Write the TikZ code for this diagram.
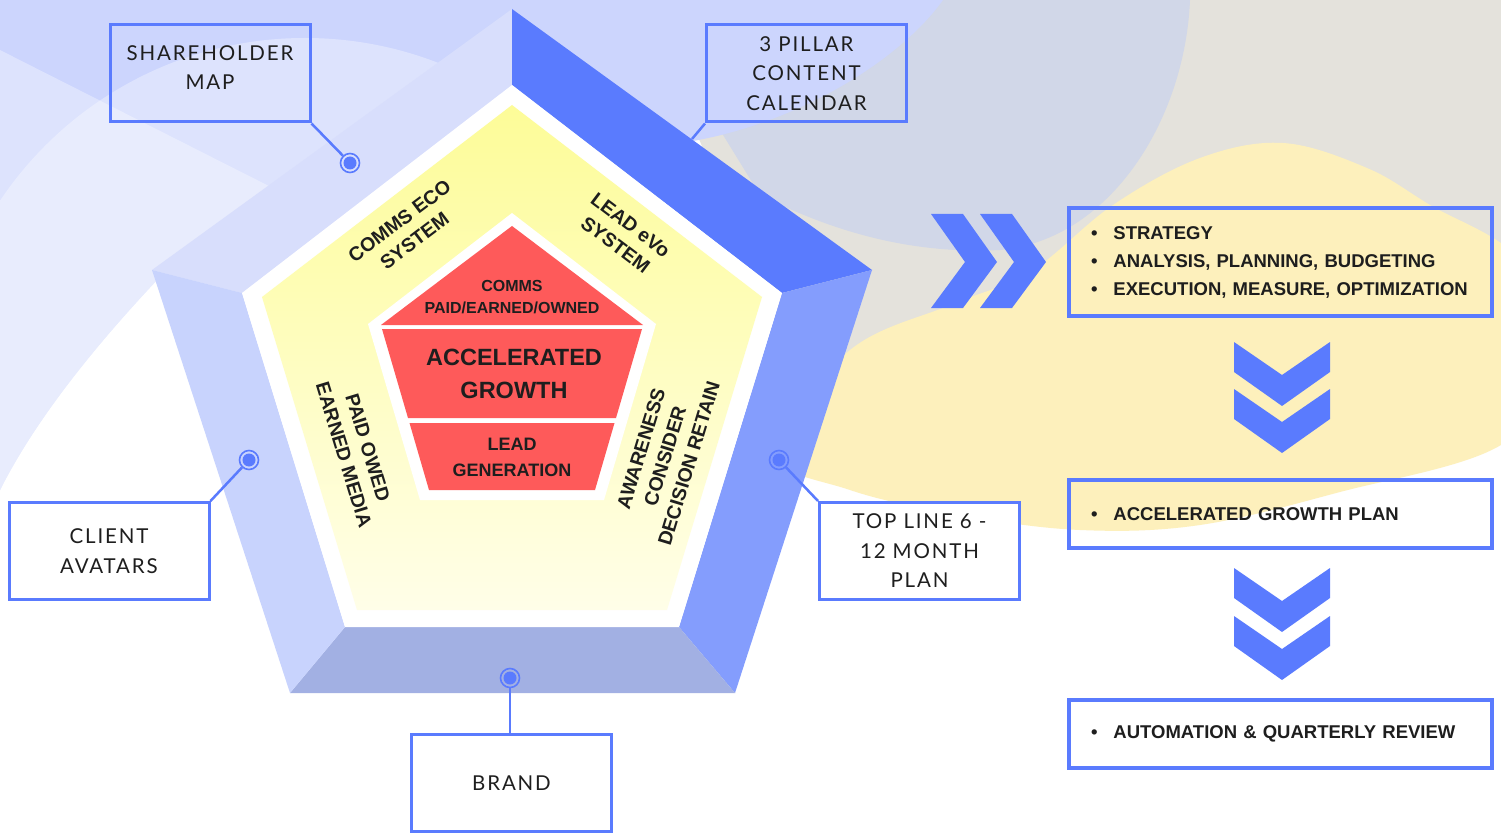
\documentclass[tikz,border=0pt]{standalone}
\usepackage{fontspec}
\setmainfont{Liberation Sans}
\newfontfamily\tagfont{Lato}[LetterSpace=9]
\usetikzlibrary{positioning}

\definecolor{accent}{HTML}{5A7BFE}
\definecolor{faceR}{HTML}{849DFD}
\definecolor{faceB}{HTML}{A2B0E3}
\definecolor{faceL}{HTML}{C8D3FD}
\definecolor{faceTL}{HTML}{D8DEFC}
\definecolor{lav}{HTML}{CCD5FD}
\definecolor{greyblue}{HTML}{D1D7E8}
\definecolor{beige}{HTML}{E4E2DC}
\definecolor{sand}{HTML}{FDF0BC}
\definecolor{coral}{HTML}{FE5A5A}
\definecolor{lemon}{HTML}{FDFC98}
\definecolor{cream}{HTML}{FFFEE8}
\definecolor{ink}{HTML}{1E1E1E}

% outline of the lavender backdrop (used twice)
\newcommand{\lavoutline}{(0,0) -- (943,0) .. controls (900,60) and (800,122) .. (693,141) -- (560,420) -- (157,280) .. controls (110,330) and (40,410) .. (0,490) -- cycle}

\begin{document}
\begin{tikzpicture}[x=1pt,y=-1pt]
  \tikzstyle{labelbox}=[draw=accent, line width=3pt, minimum width=200pt, minimum height=97pt, align=center, text=ink, font=\tagfont\fontsize{20.5}{29.5}\selectfont]
  \tikzstyle{listbox}=[draw=accent, line width=4pt, minimum width=423pt, text width=379pt, inner xsep=22pt, align=left, text=ink, font=\bfseries\fontsize{18.5}{28}\selectfont]
  \tikzstyle{knob}=[circle, draw=accent, line width=1.6pt, minimum size=19pt, inner sep=0pt, path picture={\fill[accent] (path picture bounding box.center) circle (6.5pt);}]
  \tikzstyle{wire}=[accent, line width=2.5pt]
  \tikzstyle{side}=[text=ink, align=center, font=\bfseries\fontsize{19.5}{25}\selectfont]
  \tikzstyle{core}=[text=ink, align=center]

  \fill[white] (0,0) rectangle (1501,834);
  \useasboundingbox (0,0) rectangle (1501,834);

  % backdrop
  \fill[beige] (640,0) -- (1501,0) -- (1501,280) -- (1300,260) -- (1000,330) -- (870,390) -- (780,330) -- cycle;
  \fill[sand] plot[smooth cycle, tension=0.6] coordinates {(770,450) (850,350) (950,305) (1030,272) (1113,205) (1200,158) (1283,143) (1367,168) (1430,205) (1520,260) (1560,360) (1501,445) (1340,492) (1200,525) (1080,530) (960,515) (850,490)};
  \fill[greyblue] (640,0) -- (1190,0) .. controls (1185,120) and (1110,240) .. (1000,250) .. controls (900,255) and (820,225) .. (760,195) -- cycle;
  \fill[lav] \lavoutline;
  \begin{scope}
    \clip \lavoutline;
    \fill[white, opacity=0.35] (305,405) circle (367);
    \fill[white, opacity=0.35] (-10,45) -- (700,404) -- (700,700) -- (-10,700) -- cycle;
  \end{scope}

  % bevelled pentagon
  \coordinate (T) at (512,9);   \coordinate (R) at (872,270);  \coordinate (BR) at (735,693);
  \coordinate (BL) at (290,693); \coordinate (L) at (152,270);
  \coordinate (t) at (512,85);  \coordinate (r) at (782,293);  \coordinate (br) at (679,627);
  \coordinate (bl) at (345,627); \coordinate (l) at (242,293);
  \fill[faceTL] (L) -- (T) -- (t) -- (l) -- cycle;
  \fill[accent] (T) -- (R) -- (r) -- (t) -- cycle;
  \fill[faceR] (R) -- (BR) -- (br) -- (r) -- cycle;
  \fill[faceB] (BR) -- (BL) -- (bl) -- (br) -- cycle;
  \fill[faceL] (BL) -- (L) -- (l) -- (bl) -- cycle;
  \fill[white] (t) -- (r) -- (br) -- (bl) -- (l) -- cycle;
  \shade[top color=lemon, bottom color=cream] (512,105) -- (762,297) -- (667,610) -- (357,610) -- (262,297) -- cycle;

  % red core
  \fill[white] (512,213) -- (656,324) -- (604,500) -- (420,500) -- (368,324) -- cycle;
  \fill[coral] (512,226) -- (643,325) -- (381,325) -- cycle;
  \fill[coral] (382,329) -- (642,329) -- (616,418) -- (408,418) -- cycle;
  \fill[coral] (409.5,423) -- (614.5,423) -- (595,490) -- (429,490) -- cycle;

  \node[core, font=\bfseries\fontsize{16}{22}\selectfont] (comms) at (512,297) {COMMS\\PAID/EARNED/OWNED};
  \node[core, font=\bfseries\fontsize{23.5}{33}\selectfont] (growth) at (514,374) {ACCELERATED\\GROWTH};
  \node[core, font=\bfseries\fontsize{18}{26}\selectfont] (leadgen) at (512,457) {LEAD\\GENERATION};

  \node[side, rotate=37] (eco) at (407,231) {COMMS ECO\\SYSTEM};
  \node[side, rotate=-37] (evo) at (623,235) {LEAD eVo\\SYSTEM};
  \node[side, rotate=-73] (media) at (356,451) {PAID OWED\\EARNED MEDIA};
  \node[side, rotate=73] (funnel) at (665,456) {AWARENESS\\CONSIDER\\DECISION RETAIN};

  % callouts
  \node[labelbox, text depth=12pt] (share) at (210,73.5) {SHAREHOLDER\\MAP};
  \node[labelbox] (pillar) at (806.5,73.5) {3 PILLAR\\CONTENT\\CALENDAR};
  \node[labelbox, fill=white] (client) at (109,551) {CLIENT\\AVATARS};
  \node[labelbox, fill=white] (topline) at (919.5,551) {TOP LINE 6 -\\12 MONTH\\PLAN};
  \node[labelbox, fill=white] (brand) at (511.5,783) {BRAND};

  \node[knob] (sharepin) at (350,163) {};
  \node[knob] (clientpin) at (249,460) {};
  \node[knob] (brandpin) at (510,678) {};
  \node[knob] (toppin) at (779,460) {};
  \coordinate (pillarend) at (692,139);

  \draw[wire] (share.south east) -- (sharepin);
  \draw[wire] (pillar.south west) -- (pillarend);
  \draw[wire] (client.north east) -- (clientpin);
  \draw[wire] (brandpin) -- (brandpin |- brand.north);
  \draw[wire] (topline.north west) -- (toppin);

  % plan steps
  \node[listbox, minimum height=108pt] (strat) at (1280.5,262) {\textbullet\hspace{16pt}STRATEGY\\\textbullet\hspace{16pt}ANALYSIS, PLANNING, BUDGETING\\\textbullet\hspace{16pt}EXECUTION, MEASURE, OPTIMIZATION};
  \node[listbox, minimum height=68pt] (plan) at (1280.5,514) {\textbullet\hspace{16pt}ACCELERATED GROWTH PLAN};
  \node[listbox, minimum height=68pt] (review) at (1280.5,734) {\textbullet\hspace{16pt}AUTOMATION \& QUARTERLY REVIEW};

  % chevrons
  \foreach \dx in {0,49}
    \fill[accent, xshift=\dx pt] (931,214) -- (963,214) -- (997,262) -- (963,308) -- (931,308) -- (965,262) -- cycle;
  \foreach \y in {342,389,568,616}
    \fill[accent] (1234,\y) -- (1282,\y+33) -- (1330,\y) -- (1330,\y+30) -- (1282,\y+64) -- (1234,\y+30) -- cycle;
\end{tikzpicture}
\end{document}
